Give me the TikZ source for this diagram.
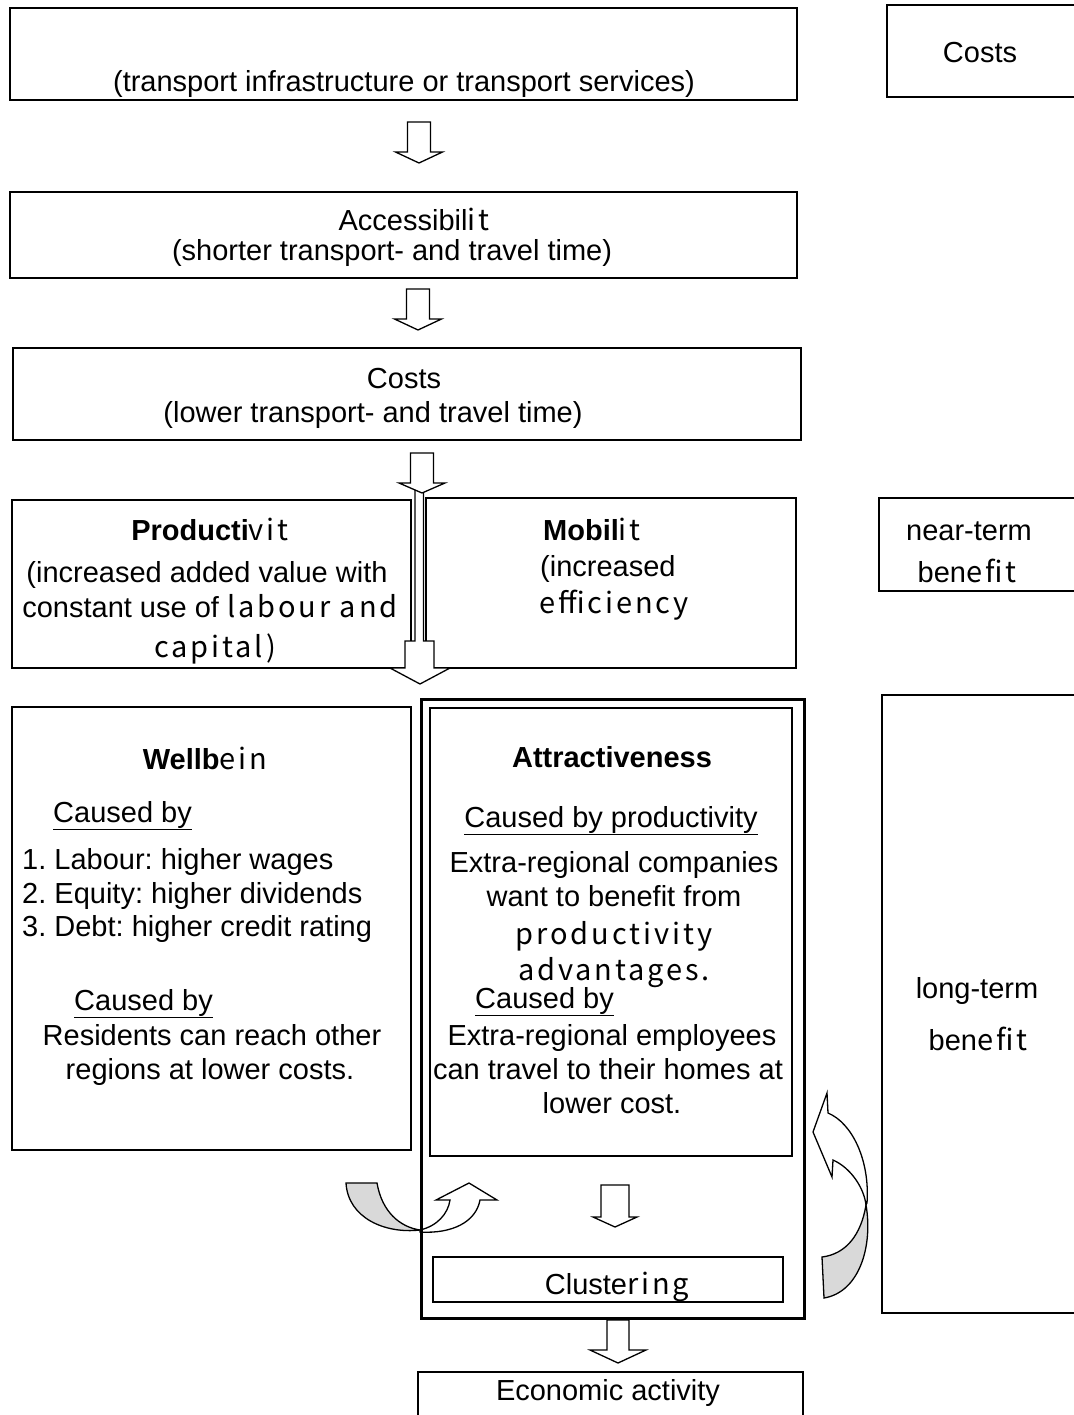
\documentclass[tikz,border=0pt]{standalone}
\usepackage{fontspec}
\setmainfont{Liberation Sans}
\newfontfamily\altf[LetterSpace=10]{Noto Sans CJK KR}
\frenchspacing

% hollow downward block arrow: centre x, top, shoulder, tip, half shaft, half head
\newcommand\blkarrow[6]{%
  \draw[blk] ({#1-#5},#2) -- ({#1+#5},#2) -- ({#1+#5},#3) -- ({#1+#6},#3)
    -- (#1,#4) -- ({#1-#6},#3) -- ({#1-#5},#3) -- cycle;}

% framed panel: name, centre x, centre y, width, height
\newcommand\panel[6][panel]{%
  \node[#1, minimum width=#5pt, minimum height=#6pt] (#2) at (#3,#4) {};}

\tikzset{
  panel/.style={draw, line width=1.3pt, inner sep=0pt, outer sep=0pt},
  heavy/.style={panel, line width=3pt},
  txt/.style={inner sep=0pt, anchor=base},
  ltxt/.style={inner sep=0pt, anchor=base west},
  blk/.style={draw, fill=white, line width=1.3pt, line join=miter},
  bendarrow/.style={draw, fill=white, line width=1.3pt},
  shadearrow/.style={draw, fill=black!15, line width=1.3pt},
}

\begin{document}
\begin{tikzpicture}[x=1pt, y=-1pt, font=\fontsize{29}{34}\selectfont]
\useasboundingbox (0,0) rectangle (1073,1415);

% ---------- panels ----------
\panel{src}{403.5}{54}{787}{92}
\panel{costTop}{983.5}{51}{193}{92}
\panel{acc}{403.5}{235}{787}{86}
\panel{cost}{407}{394}{788}{92}
\panel{prod}{211.5}{584}{399}{168}
\panel{mob}{611}{583}{370}{170}
\panel{near}{979.5}{544.5}{201}{93}
\panel{well}{211.5}{928.5}{399}{443}
\panel{attr}{611}{932}{362}{448}
\panel{clus}{608}{1279.5}{350}{45}
\panel{econ}{610.5}{1398.5}{385}{53}
\panel{long}{981}{1004}{198}{618}

% ---------- block arrows ----------
\blkarrow{419}{122}{152}{163}{11.5}{23.5}
\blkarrow{418}{289}{319}{330}{11.5}{23.5}
\draw[blk] (415,484) -- (415,641) -- (405,641) -- (405,668) -- (390,668)
  -- (420,684) -- (450,668) -- (434,668) -- (434,641) -- (423.5,641) -- (423.5,484);
\blkarrow{422}{453}{483}{493}{11.5}{23}
\blkarrow{615}{1185}{1217}{1227}{14}{22}

% ---------- curved arrows ----------
\draw[shadearrow] (346,1183) -- (377,1183)
  .. controls (382,1212) and (400,1227) .. (420,1230)
  .. controls (385,1234) and (348,1218) .. (346,1183) -- cycle;
\draw[bendarrow] (420,1230) .. controls (437,1226) and (448,1214) .. (450,1200)
  -- (436,1200) -- (469,1183) -- (497,1200) -- (480,1200)
  .. controls (476,1222) and (452,1234) .. (420,1232) -- cycle;

\draw[shadearrow] (822,1257) .. controls (846,1254) and (861,1235) .. (866,1205)
  .. controls (873,1245) and (860,1292) .. (824,1298) -- cycle;
\draw[bendarrow] (866,1205) .. controls (864,1188) and (851,1168) .. (833,1160)
  -- (832,1177) -- (813,1132) -- (827,1093) -- (828,1113)
  .. controls (852,1123) and (870,1160) .. (867,1203) -- cycle;

% outer frame around attractiveness and clustering
\panel[heavy]{attrOuter}{612.5}{1008.5}{383}{619}
\blkarrow{618}{1320}{1350}{1363}{11}{28}

% ---------- texts ----------
\node[txt] (tCostTop) at (980,63) {Costs};
\node[txt] (tSrc) at (404,92) {(transport infrastructure or transport services)};

\node[txt] (tAcc1) at (414,231) {Accessibil\altf{it}};
\node[txt] (tAcc2) at (392,261) {(shorter transport- and travel time)};

\node[txt] (tCost1) at (404,388) {Costs};
\node[txt] (tCost2) at (373,422) {(lower transport- and travel time)};

\node[txt] (tProd1) at (210,540) {\textbf{Producti}\altf{vit}};
\node[txt] (tProd2) at (207,582) {(increased added value with};
\node[txt] (tProd3) at (210,617) {constant use of \altf{labour and}};
\node[txt] (tProd4) at (215,657) {\altf{capital)}};

\node[ltxt] (tMob1) at (543,540) {\textbf{Mobil}\altf{it}};
\node[ltxt] (tMob2) at (540,576) {(increased};
\node[ltxt] (tMob3) at (539,613) {\altf{efficiency}};

\node[txt] (tNear1) at (969,540) {near-term};
\node[txt] (tNear2) at (967,582) {ben\altf{efit}};

\node[txt] (tWell) at (205,769) {\textbf{Wellb}\altf{ein}};
\node[ltxt] (tWellC1) at (53,822) {\underline{Caused by}};
\node[ltxt] (tWellL1) at (22,869) {1. Labour: higher wages};
\node[ltxt] (tWellL2) at (22,903) {2. Equity: higher dividends};
\node[ltxt] (tWellL3) at (22,936) {3. Debt: higher credit rating};
\node[ltxt] (tWellC2) at (74,1010) {\underline{Caused by}};
\node[txt] (tWellR1) at (212,1045) {Residents can reach other};
\node[txt] (tWellR2) at (210,1079) {regions at lower costs.};

\node[txt] (tAttr) at (612,767) {\textbf{Attractiveness}};
\node[txt] (tAttrC1) at (611,827) {\underline{Caused by productivity}};
\node[txt] (tAttrA1) at (614,872) {Extra-regional companies};
\node[txt] (tAttrA2) at (614,906) {want to benefit from};
\node[txt] (tAttrA3) at (614,944) {\altf{productivity}};
\node[txt] (tAttrA4) at (614,980) {\altf{advantages.}};
\node[ltxt] (tAttrC2) at (475,1008) {\underline{Caused by}};
\node[txt] (tAttrB1) at (612,1045) {Extra-regional employees};
\node[txt] (tAttrB2) at (608,1079) {can travel to their homes at};
\node[txt] (tAttrB3) at (612,1113) {lower cost.};

\node[txt] (tClus) at (617,1294) {Cluste\altf{ring}};
\node[txt] (tEcon) at (608,1400) {Economic activity};

\node[txt] (tLong1) at (977,998) {long-term};
\node[txt] (tLong2) at (978,1050) {ben\altf{efit}};
\end{tikzpicture}
\end{document}
